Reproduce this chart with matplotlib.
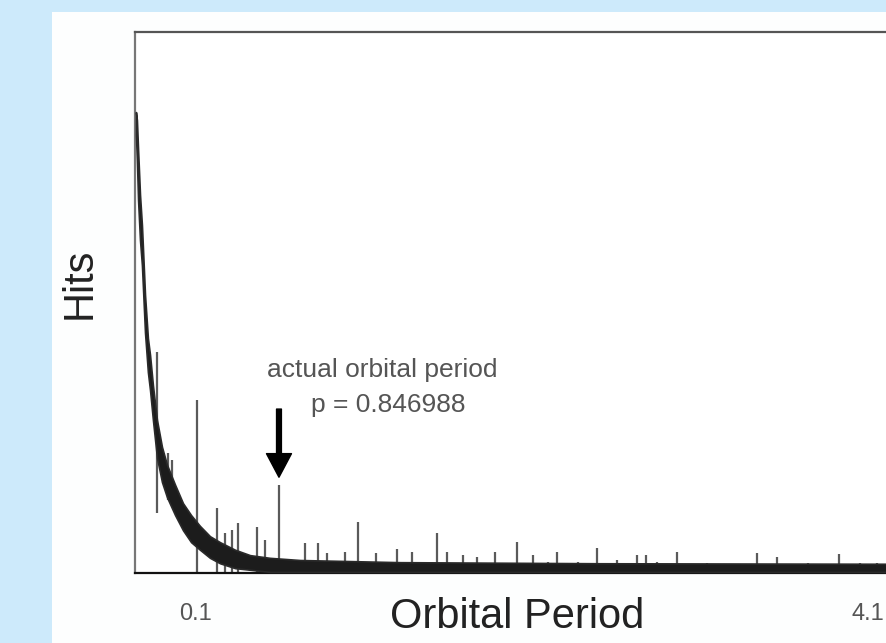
import matplotlib.pyplot as plt

plt.rcParams['font.family'] = ['Liberation Sans', 'DejaVu Sans']

# envelope of the dense hit histogram (period, low / high hit count)
band_period = [0.105, 0.110, 0.116, 0.126, 0.136, 0.152, 0.167, 0.178, 0.193, 0.214,
               0.240, 0.266, 0.308, 0.349, 0.391, 0.437, 0.489, 0.541, 0.619, 0.697,
               0.800, 0.956, 1.475, 2.513, 4.100]
band_high = [852, 837, 782, 699, 643, 514, 434, 403, 347, 283,
             233, 200, 163, 129, 107, 87, 68, 57, 43, 33,
             28, 24, 20, 18, 17]
band_low = [809, 763, 689, 615, 569, 444, 371, 338, 283, 213,
            168, 140, 107, 79, 57, 43, 28, 18, 9, 6,
            2, 2, 2, 2, 2]

# isolated peaks standing out of the noise
spike_period = [0.214, 0.271, 0.292, 0.422, 0.525, 0.567, 0.603, 0.634, 0.732, 0.774,
                0.846988, 0.982, 1.049, 1.096, 1.189, 1.256, 1.350, 1.459, 1.536, 1.667,
                1.719, 1.802, 1.874, 1.967, 2.082, 2.165, 2.243, 2.289, 2.398, 2.497,
                2.600, 2.704, 2.751, 2.808, 2.912, 3.068, 3.327, 3.431, 3.592, 3.752,
                3.861, 3.950]
spike_hits = [408, 222, 209, 320, 120, 74, 79, 92, 85, 61,
              163, 55, 55, 37, 39, 94, 37, 44, 39, 74,
              39, 33, 30, 39, 57, 33, 20, 39, 20, 46,
              24, 33, 33, 20, 39, 18, 37, 30, 18, 35,
              18, 18]
spike_base = [111, 135, 135, 0, 0, 0, 0, 0, 0, 0,
              0, 0, 0, 0, 0, 0, 0, 0, 0, 0,
              0, 0, 0, 0, 0, 0, 0, 0, 0, 0,
              0, 0, 0, 0, 0, 0, 0, 0, 0, 0,
              0, 0]

actual_period = 0.846988

fig = plt.figure(figsize=(8.86, 6.43), dpi=100)
fig.patch.set_facecolor('#cdeafb')
# white card behind the plot
fig.add_artist(plt.Rectangle((52 / 886, 0), 1, 1 - 12 / 643, transform=fig.transFigure,
                             facecolor='#fdfefe', edgecolor='none', zorder=0))

ax = fig.add_axes([135 / 886, 70 / 643, 771 / 886, 541 / 643])
ax.set_facecolor('white')
ax.set_xlim(0.1, 4.1)
ax.set_ylim(0, 1000)

ax.vlines(spike_period, spike_base, spike_hits, colors='#5a5a5a', linewidth=1.6, zorder=2)
ax.fill_between(band_period, band_low, band_high, color='#1c1c1c', linewidth=1.2,
                edgecolor='#2a2a2a', zorder=3)

ax.annotate('', xy=(actual_period, 177), xytext=(actual_period, 303),
            arrowprops=dict(facecolor='black', edgecolor='black', width=3.5,
                            headwidth=18, headlength=17))
ax.text(1.381, 362, 'actual orbital period', fontsize=19, color='#555555',
        ha='center', va='baseline')
ax.text(1.413, 298, 'p = %.6f' % actual_period, fontsize=19, color='#555555',
        ha='center', va='baseline')

ax.set_xticks([])
ax.set_yticks([])
ax.spines['top'].set_color('#555555')
ax.spines['left'].set_color('#777777')
ax.spines['bottom'].set_color('#111111')
for s in ['top', 'left', 'bottom']:
    ax.spines[s].set_linewidth(1.6)

fig.text(80 / 886, 1 - 283 / 643, 'Hits', rotation=90, fontsize=30, color='#222222',
         ha='center', va='center')
fig.text(517 / 886, 1 - 628 / 643, 'Orbital Period', fontsize=30, color='#222222',
         ha='center', va='baseline')
fig.text(195 / 886, 1 - 620 / 643, '0.1', fontsize=17, color='#555555',
         ha='center', va='baseline')
fig.text(868 / 886, 1 - 620 / 643, '4.1', fontsize=17, color='#555555',
         ha='center', va='baseline')

fig.savefig('out.png', dpi=100)
